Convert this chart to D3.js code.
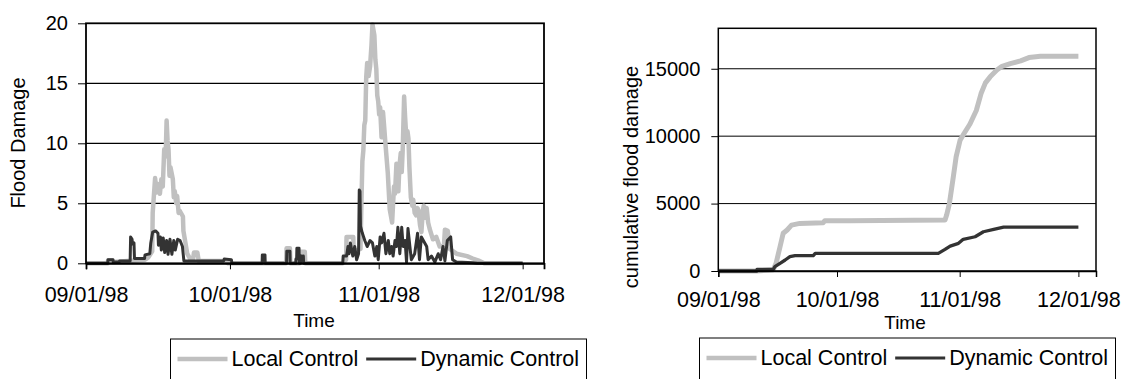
<!doctype html>
<html lang="en">
<head>
<meta charset="UTF-8">
<script src="https://cdnjs.cloudflare.com/ajax/libs/d3/7.8.5/d3.min.js"></script>
<title>Flood damage</title>
<style>
  body { margin: 0; background: #fff; }
  svg text { font-family: "Liberation Sans", Arial, sans-serif; fill: #000; }
</style>
</head>
<body>
<div id="viz_area"></div>
<script>
    // x values are days after 09/01/98
    const xTickLabels = ["09/01/98", "10/01/98", "11/01/98", "12/01/98"];
    const damageTicks = [0, 5, 10, 15, 20];
    const cumulativeTicks = [0, 5000, 10000, 15000];
    const seriesNames = ["Local Control", "Dynamic Control"];

    const localDamage = [
        [0,0],[4.5,0],[4.6,0.25],[5.6,0.25],[5.7,0.1],[12.3,0.3],[13.0,0.5],[13.8,1.0],
        [13.9,4.2],[14.4,7.1],[14.7,5.9],[15.0,6.6],[15.4,5.8],[15.7,7.0],[16.0,6.4],[16.3,9.5],
        [16.6,8.9],[16.8,11.9],[17.0,10.2],[17.2,9.5],[17.4,7.3],[17.6,8.0],[18.1,7.0],
        [18.3,5.5],[18.5,6.0],[18.8,5.0],[19.0,5.6],[19.3,4.2],[19.5,4.4],[20.2,3.9],
        [20.3,2.7],[20.6,2.0],[21.1,0.8],[21.8,0.3],[22.3,0.3],[22.5,0.9],[23.2,0.9],[23.5,0.2],
        [28.6,0.2],[29.3,0.1],[29.6,0],
        [41.7,0],[41.8,1.25],[42.5,1.25],[42.6,0],[44.5,0],[44.6,0.97],[45.6,0.97],[45.7,0],
        [53.5,0],[54.2,0.3],[54.3,2.2],[55.7,2.2],[55.8,1.0],[57.2,1.2],[57.4,5],[57.6,8.5],
        [57.8,9.4],[58.0,11.5],[58.2,11.9],[58.4,15.5],[58.6,16.7],[58.9,15.6],[59.2,16.4],
        [59.5,18.2],[59.7,19.9],[60.1,19.0],[60.3,17.0],[60.5,16.2],[60.7,14.0],[60.9,13.5],
        [61.1,12.4],[61.3,13.0],[61.6,10.5],[61.9,12.6],[62.1,11.6],[62.4,10.0],[62.6,9.0],
        [62.9,7.5],[63.1,6.0],[63.3,4.5],[63.8,3.4],[64.0,5.0],[64.2,6.4],[64.4,5.8],
        [64.7,8.3],[64.9,6.8],[65.1,6.0],[65.3,8.0],[65.6,9.2],[65.8,7.6],[66.0,9.4],
        [66.3,13.9],[66.5,12.2],[66.8,10.2],[67.0,11.0],[67.2,10.4],[67.4,8.0],[67.7,5.5],
        [68.0,4.8],[68.2,5.3],[68.5,4.2],[68.8,4.0],[69.1,4.6],[69.3,4.4],[69.6,3.2],
        [69.9,2.6],[70.2,4.4],[70.4,4.8],[70.7,3.8],[71.0,4.6],[71.3,3.4],[71.6,2.9],
        [72.3,2.0],[73.0,2.2],[73.7,1.4],[74.6,1.5],[74.8,2.8],[75.4,2.7],[75.8,1.2],
        [77.2,0.8],[79.4,0.6],[80.6,0.4],[82,0.2],[83,0],[91,0]
    ];

    const dynamicDamage = [
        [0,0],[4.5,0],[4.6,0.3],[5.6,0.3],[5.7,0.1],[6.9,0.1],[7.0,0.2],[9.2,0.2],
        [9.3,2.2],[9.6,2.0],[9.7,1.6],[10.0,1.7],[10.1,0.4],[12.2,0.4],[12.3,0.7],[13.3,0.8],
        [13.5,1.7],[13.9,2.6],[14.5,2.7],[15.0,2.5],[15.1,1.5],[15.5,2.2],[15.7,1.1],
        [16.1,2.1],[16.4,0.9],[16.8,1.9],[17.1,0.75],[17.5,2.0],[17.9,0.75],[18.3,1.9],
        [18.6,1.1],[19.1,2.0],[19.6,1.9],[20.1,1.4],[20.4,0.2],[28.7,0.2],[28.8,0.35],
        [30.3,0.3],[30.4,0],
        [36.7,0],[36.75,0.7],[37.3,0.7],[37.35,0],[41.8,0],[41.85,1.0],[42.5,1.0],[42.55,0],
        [43.7,0],[43.75,0.36],[43.9,0.36],[43.95,1.25],[44.4,1.25],[44.45,0],[44.7,0],
        [44.75,0.6],[45.3,0.6],[45.35,0],
        [53.5,0],[53.6,0.6],[54.3,0.6],[54.6,1.4],[54.8,0.8],[55.1,1.7],[55.6,0.6],[56.0,1.4],
        [56.4,0.3],[56.8,0.8],[56.95,6.1],[57.1,6.0],[57.2,3.1],[57.6,2.5],[58.1,1.9],
        [58.6,1.4],[59.2,1.9],[59.7,1.7],[60.2,0.6],[60.6,1.4],[60.9,0.3],[61.3,2.2],
        [61.6,1.7],[62.1,2.5],[62.5,0.8],[63.0,1.9],[63.3,0.8],[63.7,1.4],[64.0,0.6],
        [64.4,1.9],[64.7,1.4],[65.0,3.0],[65.4,0.8],[65.8,3.0],[66.1,1.4],[66.5,1.9],
        [66.8,0.1],[67.1,2.9],[67.5,1.4],[67.8,0.3],[68.5,0.8],[69.1,2.5],[69.5,0.3],
        [69.9,2.2],[70.3,1.9],[71.0,1.4],[71.3,0.3],[72.0,0.6],[72.7,0.1],[73.4,0.8],
        [73.9,0.3],[74.4,1.4],[74.8,0.2],[75.3,1.9],[76.0,2.2],[76.4,0.3],[77.2,0.1],
        [80.7,0.05],[81.5,0],[91,0]
    ];

    const localCumulative = [
        [0,0],[9.7,0],[13.9,100],[14.6,570],[15.6,1800],[16.4,2800],[17.4,3040],[18.5,3400],
        [20.6,3530],[26.5,3580],[26.9,3730],[33.3,3730],[57.3,3780],[57.7,4150],[58.4,5000],
        [59.4,7000],[60.1,8470],[61.1,9700],[62.1,10200],[63.6,10900],[65.2,11900],
        [66.4,13160],[67.5,13950],[68.7,14400],[70.4,14900],[71.7,15180],[73.8,15380],
        [76.4,15580],[78.5,15830],[81.4,15930],[91,15930]
    ];

    const dynamicCumulative = [
        [0,0],[9.7,0],[9.8,120],[13.9,120],[14.3,320],[15.6,570],[16.9,815],[18.1,1060],
        [19.4,1140],[24.0,1140],[24.5,1310],[55.6,1310],[57.3,1600],[58.6,1850],[60.7,2050],
        [61.9,2350],[64.9,2540],[67.0,2910],[69.6,3090],[72.1,3260],[91,3260]
    ];

    const colors = ["#c0c0c0", "#333333"];

    const parseDay = d3.timeParse("%m/%d/%y");
    const startDate = parseDay(xTickLabels[0]);
    const dayToDate = d => new Date(startDate.getTime() + d * 864e5);
    const xEnd = dayToDate(95.45);

    const svg = d3.select('#viz_area')
        .append("svg")
        .attr("width", 1126)
        .attr("height", 379);

    function drawPanel(cfg) {
        const x = d3.scaleTime()
            .domain([startDate, xEnd])
            .range([cfg.left, cfg.right]);
        const y = d3.scaleLinear()
            .domain([0, cfg.yMax])
            .range([cfg.bottom, cfg.top]);

        const g = svg.append("g");

        // gridlines
        g.selectAll(".grid")
            .data(cfg.yTicks.filter(v => v > 0 && v < cfg.yMax))
            .join("line")
            .attr("x1", cfg.left).attr("x2", cfg.right)
            .attr("y1", d => y(d)).attr("y2", d => y(d))
            .attr("stroke", "#000")
            .attr("stroke-width", cfg.gridWidth);

        // series
        const line = d3.line()
            .x(d => x(dayToDate(d[0])))
            .y(d => y(d[1]));
        cfg.series.forEach((s, i) => {
            g.append("path")
                .datum(s)
                .attr("d", line)
                .attr("fill", "none")
                .attr("stroke", colors[i])
                .attr("stroke-width", cfg.widths[i])
                .attr("stroke-linejoin", "round");
        });

        // plot border
        g.append("rect")
            .attr("x", cfg.left).attr("y", cfg.top)
            .attr("width", cfg.right - cfg.left)
            .attr("height", cfg.bottom - cfg.top)
            .attr("fill", "none")
            .attr("stroke", "#000")
            .attr("stroke-width", cfg.borderWidth);

        const xAxis = d3.axisBottom(x)
            .tickValues(xTickLabels.map(parseDay))
            .tickFormat(d3.timeFormat("%m/%d/%y"))
            .tickSize(6)
            .tickPadding(cfg.xPad);
        const gx = g.append("g")
            .attr("transform", `translate(0,${cfg.bottom})`)
            .call(xAxis);
        gx.select(".domain").attr("stroke-width", cfg.borderWidth);
        gx.selectAll("text").style("font-size", "21.5px");

        const yAxis = d3.axisLeft(y)
            .tickValues(cfg.yTicks)
            .tickFormat(d3.format("d"))
            .tickSize(cfg.yTickSize)
            .tickPadding(cfg.yPad);
        const gy = g.append("g")
            .attr("transform", `translate(${cfg.left},0)`)
            .call(yAxis);
        gy.select(".domain").remove();
        gy.selectAll("text").style("font-size", "20px");

        g.append("text")
            .attr("transform", `translate(${cfg.yTitleX},${cfg.yTitleY}) rotate(-90)`)
            .attr("text-anchor", "middle")
            .attr("dy", "0.35em")
            .style("font-size", "20px")
            .text(cfg.yTitle);

        g.append("text")
            .attr("x", cfg.timeX)
            .attr("y", cfg.timeY)
            .attr("text-anchor", "middle")
            .attr("dy", "0.35em")
            .style("font-size", "19px")
            .text("Time");

        // legend
        const lg = g.append("g");
        lg.append("rect")
            .attr("x", cfg.legX).attr("y", cfg.legY)
            .attr("width", 416).attr("height", 60)
            .attr("fill", "#fff")
            .attr("stroke", "#000")
            .attr("stroke-width", 1);
        let cx = cfg.legX + 7;
        const ly = cfg.legY + 19;
        seriesNames.forEach((name, i) => {
            lg.append("line")
                .attr("x1", cx).attr("x2", cx + 50)
                .attr("y1", ly + 1).attr("y2", ly + 1)
                .attr("stroke", colors[i])
                .attr("stroke-width", i === 0 ? 4.5 : 3);
            const t = lg.append("text")
                .attr("x", cx + 54)
                .attr("y", ly)
                .attr("dy", "0.35em")
                .style("font-size", "21.5px")
                .text(name);
            cx = cx + 54 + t.node().getComputedTextLength() + 8;
        });
    }

    drawPanel({
        left: 86, right: 544, top: 23.3, bottom: 263.3,
        yMax: 20, yTicks: damageTicks,
        series: [localDamage, dynamicDamage], widths: [4.5, 3],
        gridWidth: 1.3, borderWidth: 1.8,
        xPad: 17, yTickSize: 8, yPad: 10,
        yTitle: "Flood Damage", yTitleX: 18, yTitleY: 143,
        timeX: 314, timeY: 320,
        legX: 170.5, legY: 339
    });

    drawPanel({
        left: 718.3, right: 1096, top: 28.3, bottom: 271,
        yMax: 18000, yTicks: cumulativeTicks,
        series: [localCumulative, dynamicCumulative], widths: [5, 3.3],
        gridWidth: 1, borderWidth: 1.5,
        xPad: 15, yTickSize: 7, yPad: 11,
        yTitle: "cumulative flood damage", yTitleX: 631, yTitleY: 177,
        timeX: 905, timeY: 322,
        legX: 699.5, legY: 338
    });
</script>
</body>
</html>
